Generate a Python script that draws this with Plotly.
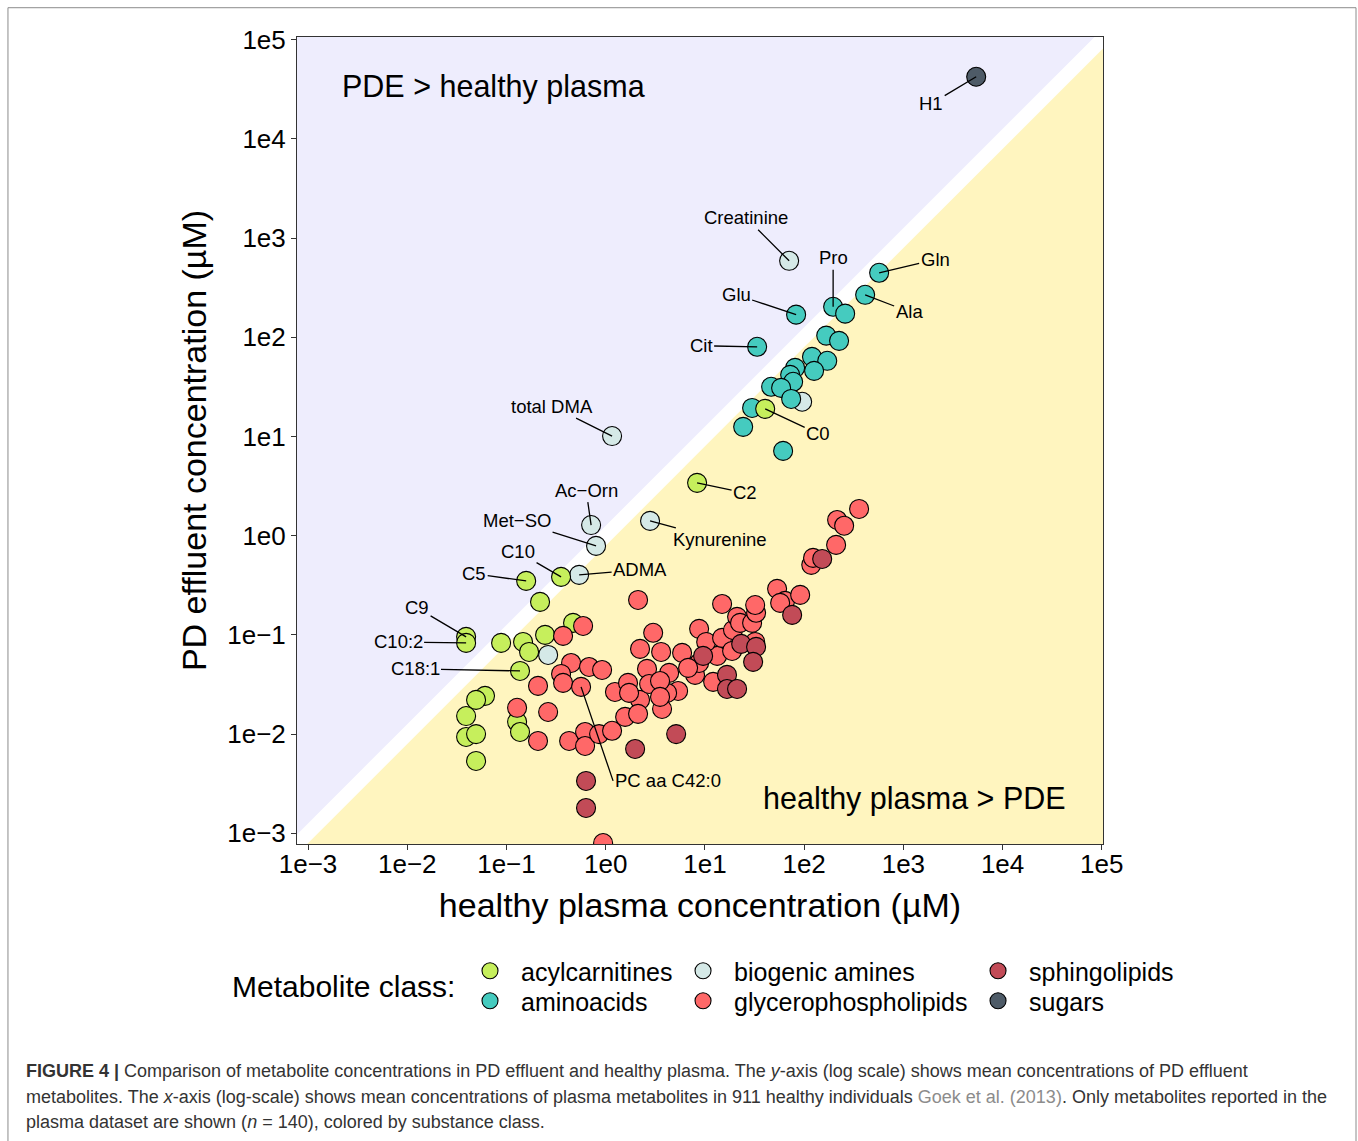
import math
import plotly.graph_objects as go

# ---------------- data (concentrations in µM) ----------------
# healthy plasma (x) / PD effluent (y)
acyl_x = [40.5, 8.34, 0.355, 0.158, 0.218, 0.0392, 0.0392, 0.137, 0.0883, 0.147, 0.245,
          0.469, 0.169, 0.0608, 0.0494, 0.0392, 0.0392, 0.0494, 0.0494, 0.128, 0.137]
acyl_y = [19.0, 3.41, 0.384, 0.350, 0.215, 0.0955, 0.083, 0.0433, 0.083, 0.0849, 0.100,
          0.132, 0.0673, 0.0243, 0.0221, 0.0152, 0.00935, 0.0100, 0.00536, 0.0133, 0.0105]
acyl_lab = ["C0", "C2", "C10", "C5", "", "C9", "C10:2", "C18:1", "", "", "",
            "", "", "", "", "", "", "", "", "", ""]

amino_x = [570, 412, 196, 259, 83.0, 33.6, 167, 225, 120, 171, 126, 81.1, 72.3, 77.5,
           46.5, 58.6, 74.0, 29.9, 24.3, 61.4]
amino_y = [447, 268, 203, 173, 169, 80.2, 104, 92.0, 63.5, 57.9, 45.9, 49.2, 41.8, 35.6,
           31.7, 30.9, 23.9, 19.4, 12.5, 7.16]
amino_lab = ["Gln", "Ala", "Pro", "", "Glu", "Cit", "", "", "", "", "", "", "", "",
             "", "", "", "", "", ""]

biog_x = [70.6, 1.16, 0.713, 0.80, 0.54, 2.80, 0.263, 95.5]
biog_y = [590, 10.1, 1.28, 0.789, 0.403, 1.41, 0.0628, 22.4]
biog_lab = ["Creatinine", "total DMA", "Ac\u2212Orn", "Met\u2212SO", "ADMA", "Kynurenine", "", ""]

glyc_x = [2.12, 0.592, 0.372, 3.01, 2.22, 3.62, 5.89, 0.448, 0.680, 0.920, 0.355, 0.372,
          0.565, 0.208, 0.128, 0.263, 0.208, 0.428, 0.620, 0.620, 0.858, 1.16, 1.24, 1.68,
          2.22, 1.57, 2.12, 2.61, 2.74, 4.36, 3.70, 5.37, 4.16, 7.96, 8.74, 12.1, 13.3,
          8.74, 10.3, 14.9, 18.8, 19.2, 21.1, 22.6, 29.9, 32.8, 32.1, 14.9, 32.1, 53.4,
          64.3, 57.3, 91.2, 118, 123, 210, 215, 253, 358, 1.72, 3.53, 6.77, 3.53, 0.942]
glyc_y = [0.225, 0.123, 0.0977, 0.105, 0.0722, 0.0673, 0.0658, 0.0521, 0.0475, 0.0443,
          0.0404, 0.0328, 0.0299, 0.0306, 0.0184, 0.0167, 0.00853, 0.00853, 0.0105, 0.00759,
          0.0100, 0.0108, 0.0266, 0.0328, 0.0221, 0.0149, 0.0160, 0.0454, 0.0320, 0.0414,
          0.0179, 0.0272, 0.0260, 0.0395, 0.0521, 0.0336, 0.0614, 0.115, 0.0849, 0.0932,
          0.0689, 0.112, 0.152, 0.132, 0.132, 0.167, 0.200, 0.205, 0.0849, 0.291, 0.220,
          0.210, 0.253, 0.508, 0.597, 0.807, 1.44, 1.26, 1.86, 0.0260, 0.0343, 0.0465,
          0.0237, 0.000798]
glyc_lab = [""] * 12 + ["PC aa C42:0"] + [""] * (len(glyc_x) - 13)

sphi_x = [152, 75.7, 23.2, 32.8, 30.6, 9.59, 16.7, 16.7, 21.1, 5.13, 1.98, 0.634, 0.634]
sphi_y = [0.583, 0.159, 0.0811, 0.0757, 0.0534, 0.0614, 0.0395, 0.0285, 0.0285, 0.0100,
          0.00708, 0.00337, 0.00180]
sphi_lab = [""] * len(sphi_x)

sugar_x = [5420]
sugar_y = [42300]
sugar_lab = ["H1"]

tick_vals = [1e-3, 1e-2, 1e-1, 1e0, 1e1, 1e2, 1e3, 1e4, 1e5]
tick_text = ["1e\u22123", "1e\u22122", "1e\u22121", "1e0", "1e1", "1e2", "1e3", "1e4", "1e5"]

# ---------------- styling ----------------
FONT = "Liberation Sans, Arial, Helvetica, sans-serif"
LAVENDER = "#EEEDFD"
YELLOW = "#FFF5BF"
BAND = 10 ** 0.1          # white band half-width around y = x
EXT = (1e-5, 1e7)

classes = [
    # name, x, y, labels, color, legend id
    ("biogenic amines", biog_x, biog_y, biog_lab, "#D5E9E7", "legend3"),
    ("aminoacids", amino_x, amino_y, amino_lab, "#45CBBF", "legend2"),
    ("acylcarnitines", acyl_x, acyl_y, acyl_lab, "#C6EF5C", "legend"),
    ("glycerophospholipids", glyc_x, glyc_y, glyc_lab, "#FF6868", "legend4"),
    ("sphingolipids", sphi_x, sphi_y, sphi_lab, "#C24B57", "legend5"),
    ("sugars", sugar_x, sugar_y, sugar_lab, "#4E5B67", "legend6"),
]

# label offsets (pixels from point to label) -- layout only
LABEL_OFFSETS = {
    "H1": (-45, 27, "center"),
    "Creatinine": (-43, -43, "center"),
    "Pro": (0, -49, "center"),
    "Gln": (56, -13, "center"),
    "Glu": (-60, -20, "center"),
    "Ala": (44, 17, "center"),
    "Cit": (-56, -1, "center"),
    "total DMA": (-60, -30, "center"),
    "C0": (53, 25, "center"),
    "C2": (48, 10, "center"),
    "Ac\u2212Orn": (-5, -35, "center"),
    "Met\u2212SO": (-79, -25, "center"),
    "Kynurenine": (70, 19, "center"),
    "C10": (-43, -25, "center"),
    "ADMA": (61, -5, "center"),
    "C5": (-52, -7, "center"),
    "C9": (-49, -29, "center"),
    "C10:2": (-68, -1, "center"),
    "C18:1": (-105, -2, "center"),
    "PC aa C42:0": (32, 94, "left"),
}

fig = go.Figure()

# background regions
fig.add_trace(go.Scatter(
    x=[EXT[0], EXT[1], EXT[0], EXT[0]],
    y=[EXT[0] * BAND, EXT[1] * BAND, EXT[1] * BAND, EXT[0] * BAND],
    fill="toself", fillcolor=LAVENDER, mode="lines", line=dict(width=0),
    hoverinfo="skip", showlegend=False))
fig.add_trace(go.Scatter(
    x=[EXT[0], EXT[1], EXT[1], EXT[0]],
    y=[EXT[0] / BAND, EXT[1] / BAND, EXT[0] / BAND, EXT[0] / BAND],
    fill="toself", fillcolor=YELLOW, mode="lines", line=dict(width=0),
    hoverinfo="skip", showlegend=False))

annotations = []
for name, xs, ys, labs, color, leg in classes:
    fig.add_trace(go.Scatter(
        x=xs, y=ys, mode="markers", name=name, legend=leg,
        text=[l for l in labs],
        marker=dict(size=19, color=color, line=dict(color="black", width=1.1)),
    ))
    for xv, yv, lab in zip(xs, ys, labs):
        if lab:
            ax, ay, xa = LABEL_OFFSETS[lab]
            annotations.append(dict(
                x=math.log10(xv), y=math.log10(yv), xref="x", yref="y",
                text=lab, showarrow=True, arrowhead=0, arrowwidth=1.3,
                arrowcolor="black", ax=ax, ay=ay, xanchor=xa, standoff=0,
                font=dict(family=FONT, size=18.5, color="black")))

# region texts
annotations.append(dict(x=0.2432, y=0.9384, xref="paper", yref="paper",
                        xanchor="center", yanchor="middle",
                        text="PDE > healthy plasma", showarrow=False,
                        font=dict(family=FONT, size=30.5, color="black")))
annotations.append(dict(x=0.7667, y=0.0570, xref="paper", yref="paper",
                        xanchor="center", yanchor="middle",
                        text="healthy plasma > PDE", showarrow=False,
                        font=dict(family=FONT, size=30.5, color="black")))
# legend title
annotations.append(dict(x=0.0583, y=-0.1760, xref="paper", yref="paper",
                        xanchor="center", yanchor="middle",
                        text="Metabolite class:", showarrow=False,
                        font=dict(family=FONT, size=30, color="black")))

# caption
cap_font = dict(family=FONT, size=18, color="#333333")
caption = [
    "<b>FIGURE 4 |</b> Comparison of metabolite concentrations in PD effluent and healthy plasma. "
    "The <i>y</i>-axis (log scale) shows mean concentrations of PD effluent",
    "metabolites. The <i>x</i>-axis (log-scale) shows mean concentrations of plasma metabolites in 911 "
    "healthy individuals <span style='color:#8C8C8C'>Goek et al. (2013)</span>. Only metabolites reported in the",
    "plasma dataset are shown (<i>n</i> = 140), colored by substance class.",
]
for i, line in enumerate(caption):
    annotations.append(dict(x=-0.3387, y=[-0.2814, -0.3136, -0.3446][i], xref="paper", yref="paper",
                            xanchor="left", yanchor="middle", text=line, showarrow=False,
                            font=cap_font))

axis_common = dict(
    type="log", tickvals=tick_vals, ticktext=tick_text, ticks="outside", ticklen=5,
    tickwidth=1, tickcolor="#333333", showgrid=False, zeroline=False, showline=True,
    mirror=True, linecolor="#333333", linewidth=1,
    tickfont=dict(family=FONT, size=26, color="black"),
)

legend_common = dict(orientation="v", bgcolor="rgba(0,0,0,0)", borderwidth=0,
                     font=dict(family=FONT, size=25, color="black"), itemwidth=52,
                     xanchor="left", yanchor="middle", xref="paper", yref="paper")
leg_pos = {
    "legend": (0.201, -0.1574), "legend2": (0.201, -0.1946),
    "legend3": (0.4653, -0.1574), "legend4": (0.4653, -0.1946),
    "legend5": (0.8313, -0.1574), "legend6": (0.8313, -0.1946),
}

layout = dict(
    width=1358, height=1141,
    margin=dict(l=297, r=255, t=37, b=297, autoexpand=False),
    paper_bgcolor="white", plot_bgcolor="white",
    font=dict(family=FONT, color="black"),
    xaxis=dict(axis_common, range=[-3.111, 5.012], ticklabelstandoff=-8,
               title=dict(text="healthy plasma concentration (µM)", standoff=14,
                          font=dict(family=FONT, size=34, color="black"))),
    yaxis=dict(axis_common, range=[-3.108, 5.027],
               title=dict(text="PD effluent concentration (µM)", standoff=10,
                          font=dict(family=FONT, size=34, color="black"))),
    annotations=annotations,
    showlegend=True,
    shapes=[dict(type="rect", xref="paper", yref="paper", x0=-0.3586, x1=1.3139,
                 y0=-0.40, y1=1.0363, line=dict(color="#8C8C8C", width=1),
                 fillcolor="rgba(0,0,0,0)", layer="above")],
)
for k, (lx, ly) in leg_pos.items():
    layout[k] = dict(legend_common, x=lx, y=ly)

fig.update_layout(**layout)
fig.write_html("out.html", config={"displayModeBar": False},
               post_script="document.body.style.margin='0';document.body.style.overflow='hidden';")
